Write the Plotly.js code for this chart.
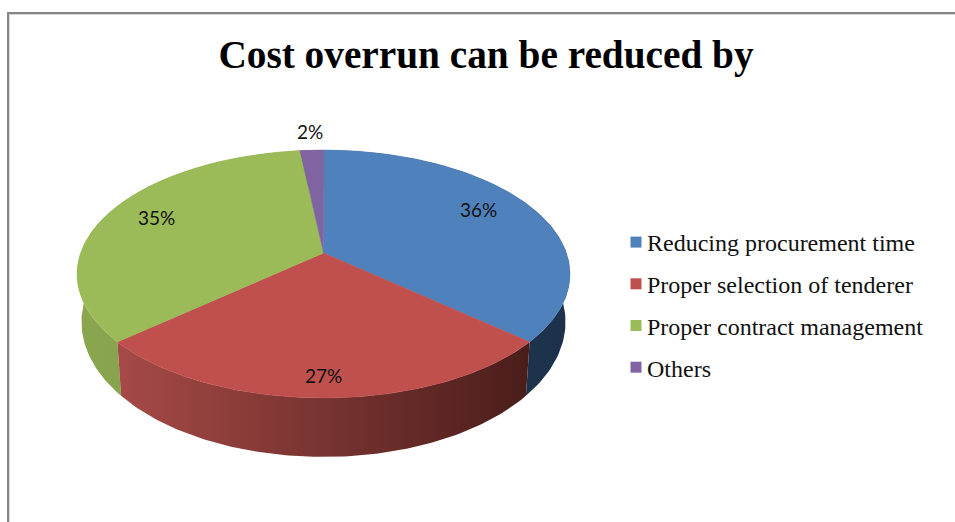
<!DOCTYPE html>
<html>
<head>
<meta charset="utf-8">
<script src="https://cdn.plot.ly/plotly-3.0.0.min.js"></script>
<style>html,body{margin:0;padding:0;background:#fff}#chart{width:955px;height:522px}</style>
</head>
<body>
<div id="chart"></div>
<script>
const titleText = 'Cost overrun can be reduced by';
const categories = ['Reducing procurement time', 'Proper selection of tenderer', 'Proper contract management', 'Others'];
const shares = [36.4, 27.2, 34.6, 1.8];
const topColors = ['#4F81BD', '#C0504D', '#9BBB59', '#8064A2'];
const sideColors = [
  ['#24405F', '#1C3149'],
  ['#A64A46', '#4A1D1B'],
  ['#8AA64F', '#7F9A48'],
  ['#5F4A7A', '#5F4A7A']
];
const labelX = [478, 323, 156, 310];
const labelY = [209, 375, 217, 131];

// Perspective pie geometry (pixel-based axes)
const cx = 323.5, apexY = 253, halfW = 242.9, halfH = 120.4, tilt = 0.1694;
const lowerScaleX = 0.982, lowerScaleY = 1.089, lowerApexY = 299;

function project(deg, sx, sy, y0) {
  const t = deg * Math.PI / 180, u = Math.sin(t), v = -Math.cos(t), w = 1 - tilt * v;
  return [cx + sx * halfW * u / w, y0 + sy * halfH * v / w];
}
function arc(a, b, sx, sy, y0) {
  const pts = [], n = Math.max(2, Math.ceil(Math.abs(b - a)));
  for (let i = 0; i <= n; i++) pts.push(project(a + (b - a) * i / n, sx, sy, y0));
  return pts;
}
const ranges = [];
let running = 0;
shares.forEach(s => { const a = running * 3.6; running += s; ranges.push([a, running * 3.6]); });

const traces = [];
// sides first: purple/blue back, then green, blue, red front
[3, 2, 0, 1].forEach(i => {
  const [a, b] = ranges[i];
  const up = arc(a, b, 1, 1, apexY), low = arc(a, b, lowerScaleX, lowerScaleY, lowerApexY).reverse();
  const pts = up.concat(low);
  pts.push(pts[0]);
  traces.push({
    type: 'scatter', mode: 'lines', x: pts.map(p => p[0]), y: pts.map(p => p[1]),
    fill: 'toself', line: {width: 0}, hoverinfo: 'skip', showlegend: false,
    fillcolor: sideColors[i][0],
    fillgradient: {type: 'horizontal', colorscale: [[0, sideColors[i][0]], [1, sideColors[i][1]]]}
  });
});
// top surface
categories.forEach((name, i) => {
  const [a, b] = ranges[i];
  const pts = [[cx, apexY]].concat(arc(a, b, 1, 1, apexY));
  pts.push([cx, apexY]);
  traces.push({
    type: 'scatter', mode: 'lines', x: pts.map(p => p[0]), y: pts.map(p => p[1]),
    fill: 'toself', fillcolor: topColors[i], line: {width: 0.5, color: topColors[i]},
    name: name, hoverinfo: 'name', showlegend: false
  });
});
// legend entries
categories.forEach((name, i) => {
  traces.push({
    type: 'scatter', mode: 'markers', x: [null], y: [null], name: name, legendgroup: 'g' + i,
    marker: {symbol: 'square', size: 11, color: topColors[i]}, hoverinfo: 'skip'
  });
});

const layout = {
  width: 955, height: 522,
  margin: {l: 0, r: 0, t: 0, b: 0},
  paper_bgcolor: '#ffffff', plot_bgcolor: '#ffffff',
  title: {
    text: '<b>' + titleText + '</b>',
    font: {family: '"Liberation Serif", serif', size: 39.3, color: '#000000'},
    x: 486 / 955, xanchor: 'center', xref: 'paper',
    y: 1 - 54 / 522, yanchor: 'middle', yref: 'container'
  },
  xaxis: {visible: false, range: [0, 955], fixedrange: true},
  yaxis: {visible: false, range: [522, 0], fixedrange: true},
  showlegend: true,
  legend: {
    x: 607 / 955, y: 1 - 220 / 522, xanchor: 'left', yanchor: 'top',
    font: {family: '"Liberation Serif", serif', size: 24, color: '#111111'},
    tracegroupgap: 7.5, bgcolor: 'rgba(0,0,0,0)', borderwidth: 0, traceorder: 'grouped'
  },
  shapes: [
    {type: 'line', xref: 'x', yref: 'y', x0: 8, x1: 955, y0: 13, y1: 13, line: {color: '#868686', width: 2}},
    {type: 'line', xref: 'x', yref: 'y', x0: 8, x1: 955, y0: 14.5, y1: 14.5, line: {color: '#D8D8D8', width: 1}},
    {type: 'line', xref: 'x', yref: 'y', x0: 8, x1: 8, y0: 12, y1: 522, line: {color: '#868686', width: 2}},
    {type: 'line', xref: 'x', yref: 'y', x0: 9.5, x1: 9.5, y0: 14, y1: 522, line: {color: '#D8D8D8', width: 1}}
  ],
  annotations: shares.map((s, i) => ({
    x: labelX[i], y: labelY[i], xref: 'x', yref: 'y', text: Math.round(s) + '%', showarrow: false,
    xanchor: 'center', yanchor: 'middle',
    font: {family: 'Lato, sans-serif', size: 19, color: '#111111'}
  }))
};
Plotly.newPlot('chart', traces, layout, {displayModeBar: false}).then(gd => {
  // Office-style legend: swatch sits close to its text
  gd.querySelectorAll('.legend .legendpoints').forEach(g => {
    g.setAttribute('transform', 'translate(9,0)');
  });
});
</script>
</body>
</html>
